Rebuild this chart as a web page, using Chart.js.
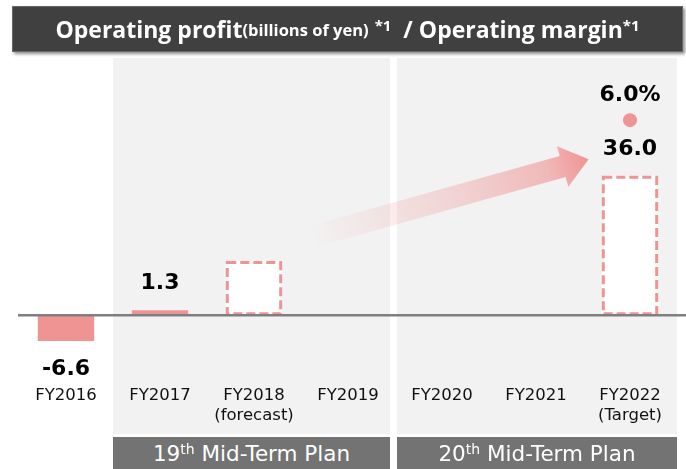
<!DOCTYPE html>
<html>
<head>
<meta charset="utf-8">
<script src="https://cdn.jsdelivr.net/npm/chart.js@4.4.0/dist/chart.umd.min.js"></script>
<style>
    body { margin: 0; background: #fff; }
    #wrap { position: relative; width: 686px; height: 469px; }
    #title {
        position: absolute; left: 12px; top: 6px; width: 669px; height: 44px;
        background: #404040; border: 1px solid #686868;
        box-shadow: 2px 2px 3px rgba(0, 0, 0, 0.45);
        color: #fff; font: bold 23px "Open Sans", sans-serif;
        display: flex; align-items: center; justify-content: center; white-space: nowrap;
    }
    #title small { font-size: 16.5px; }
    #title sup { font-size: 15px; position: relative; top: -4px; }
    .plan {
        position: absolute; top: 437px; height: 32px; background: #737373;
        color: #fff; font: 21.5px "DejaVu Sans", sans-serif;
        display: flex; align-items: center; justify-content: center; white-space: nowrap;
    }
    .plan sup { font-size: 14px; position: relative; top: -4px; }
    canvas { position: absolute; left: 0; top: 0; }
</style>
</head>
<body>
<div id="wrap">
    <canvas id="profitChart" width="686" height="469"></canvas>
    <div id="title">Operating profit<small>(billions of yen)</small>&nbsp;<sup>*1</sup>&nbsp; / Operating margin<sup>*1</sup></div>
    <div class="plan" id="plan0">19<sup>th</sup>&nbsp;Mid-Term Plan</div>
    <div class="plan" id="plan1">20<sup>th</sup>&nbsp;Mid-Term Plan</div>
</div>
<script>
const categories = ["FY2016", "FY2017", "FY2018", "FY2019", "FY2020", "FY2021", "FY2022"];
const notes = ["", "", "(forecast)", "", "", "", "(Target)"];
const profit = [-6.6, 1.3, null, null, null, null, null];
const plannedProfit = [null, null, 14, null, null, null, 36.0];
const margin = [null, null, null, null, null, null, 6.0];
const planSpans = [[1, 3], [4, 6]];

const PINK = "#f09393";

const decor = {
    id: "decor",
    beforeDraw(chart) {
        const { ctx, scales: { x } } = chart;
        const step = x.getPixelForValue(1) - x.getPixelForValue(0);
        ctx.save();
        ctx.fillStyle = "#f2f2f2";
        planSpans.forEach(([a, b], i) => {
            let left = x.getPixelForValue(a) - step / 2;
            let right = x.getPixelForValue(b) + step / 2;
            if (i === 0) right -= 5; else left += 2;
            ctx.fillRect(left, 58, right - left, 376);
            const el = document.getElementById("plan" + i);
            el.style.left = left + "px";
            el.style.width = (right - left) + "px";
        });
        ctx.restore();
    },
    beforeDatasetsDraw(chart) {
        // growth arrow from the forecast towards the target
        const { ctx, scales: { x, y } } = chart;
        const x0 = x.getPixelForValue(2.62), y0 = y.getPixelForValue(20.3);
        const x1 = x.getPixelForValue(5.56), y1 = y.getPixelForValue(40.3);
        const len = Math.hypot(x1 - x0, y1 - y0);
        const ang = Math.atan2(y1 - y0, x1 - x0);
        const g = ctx.createLinearGradient(x0, y0, x1, y1);
        g.addColorStop(0, "rgba(240,147,147,0)");
        g.addColorStop(0.55, "rgba(240,147,147,0.35)");
        g.addColorStop(0.85, "rgba(240,147,147,0.6)");
        g.addColorStop(1, "rgba(240,147,147,1)");
        ctx.save();
        ctx.fillStyle = g;
        ctx.beginPath();
        const pts = [[0, -11], [len - 27, -11], [len - 27, -21], [len, 0], [len - 27, 21], [len - 27, 11], [0, 11]];
        pts.forEach(([u, v], i) => {
            const px = x0 + u * Math.cos(ang) - v * Math.sin(ang);
            const py = y0 + u * Math.sin(ang) + v * Math.cos(ang);
            if (i === 0) ctx.moveTo(px, py); else ctx.lineTo(px, py);
        });
        ctx.closePath();
        ctx.fill();
        ctx.restore();
    },
    afterDatasetsDraw(chart) {
        const { ctx, scales: { y } } = chart;
        ctx.save();

        // dashed outline for forecast / target boxes
        ctx.strokeStyle = PINK;
        ctx.lineWidth = 3;
        ctx.setLineDash([9, 4]);
        chart.getDatasetMeta(1).data.forEach((el, i) => {
            if (plannedProfit[i] === null) return;
            const w = el.width;
            ctx.strokeRect(el.x - w / 2 + 1.5, el.y + 1.5, w - 3, el.base - el.y - 3);
        });
        ctx.setLineDash([]);

        // zero line
        const zy = y.getPixelForValue(0);
        ctx.strokeStyle = "#7f7f7f";
        ctx.lineWidth = 2.5;
        ctx.beginPath();
        ctx.moveTo(18, zy);
        ctx.lineTo(chart.width, zy);
        ctx.stroke();

        // value labels
        ctx.fillStyle = "#000";
        ctx.font = "bold 22px 'DejaVu Sans'";
        ctx.textAlign = "center";
        ctx.textBaseline = "middle";
        chart.getDatasetMeta(0).data.forEach((el, i) => {
            const v = profit[i];
            if (v === null) return;
            ctx.fillText(v.toFixed(1), el.x, v >= 0 ? el.y - 27 : el.y + 28);
        });
        chart.getDatasetMeta(1).data.forEach((el, i) => {
            if (plannedProfit[i] === null || notes[i] !== "(Target)") return;
            ctx.fillText(plannedProfit[i].toFixed(1), el.x, el.y - 27);
        });
        chart.getDatasetMeta(2).data.forEach((el, i) => {
            if (margin[i] === null) return;
            ctx.fillText(margin[i].toFixed(1) + "%", el.x, el.y - 25);
        });
        ctx.restore();
    },
};

const chart = new Chart(document.getElementById("profitChart"), {
    type: "bar",
    data: {
        labels: categories.map((c, i) => (notes[i] ? [c, notes[i]] : c)),
        datasets: [
            {
                label: "Operating profit",
                data: profit,
                backgroundColor: PINK,
                borderWidth: 0,
                grouped: false,
                barPercentage: 0.6,
                categoryPercentage: 1,
            },
            {
                label: "Plan",
                data: plannedProfit,
                backgroundColor: "#fff",
                borderWidth: 0,
                grouped: false,
                barPercentage: 0.6,
                categoryPercentage: 1,
            },
            {
                type: "line",
                label: "Operating margin",
                data: margin,
                yAxisID: "y2",
                showLine: false,
                pointRadius: 7,
                pointBackgroundColor: PINK,
                pointBorderWidth: 0,
            },
        ],
    },
    options: {
        responsive: false,
        animation: false,
        layout: {
            padding: { left: 19, right: 9, top: 60, bottom: 35 },
        },
        plugins: {
            legend: { display: false },
            tooltip: { enabled: false },
        },
        scales: {
            x: {
                grid: { display: false, drawTicks: false },
                border: { display: false },
                ticks: {
                    color: "#111",
                    font: { family: "DejaVu Sans", size: 16.5, lineHeight: 1.22 },
                    padding: 8,
                    maxRotation: 0,
                    autoSkip: false,
                },
            },
            y: {
                display: false,
                min: -16.1,
                max: 65.9,
            },
            y2: {
                display: false,
                min: -1.92,
                max: 7.85,
            },
        },
    },
    plugins: [decor],
});
</script>
</body>
</html>
